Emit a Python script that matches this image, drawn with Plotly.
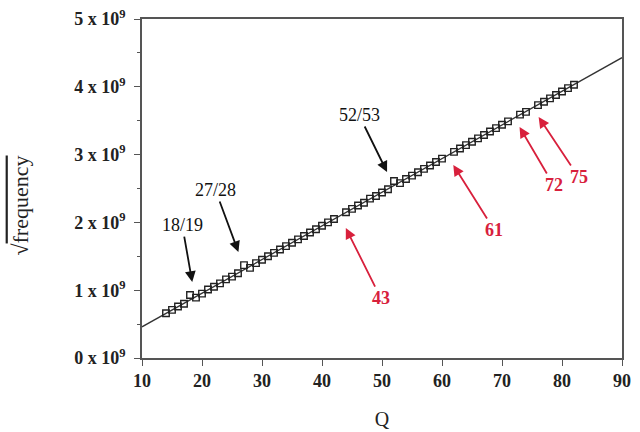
import plotly.graph_objects as go

# ---- data ----
Q = [14, 15, 16, 17, 18, 19, 20, 21, 22, 23, 24, 25, 26, 27, 28, 29, 30, 31, 32, 33,
     34, 35, 36, 37, 38, 39, 40, 41, 42, 44, 45, 46, 47, 48, 49, 50, 51, 52, 53, 54,
     55, 56, 57, 58, 59, 60, 62, 63, 64, 65, 66, 67, 68, 69, 70, 71, 73, 74, 76, 77,
     78, 79, 80, 81, 82]
sqrt_freq_e9 = [0.66, 0.71, 0.76, 0.80, 0.93, 0.89, 0.95, 1.01, 1.05, 1.10, 1.16, 1.20, 1.25, 1.37, 1.33,
                1.40, 1.45, 1.50, 1.55, 1.60, 1.65, 1.70, 1.75, 1.80, 1.85, 1.90, 1.95, 2.00, 2.05,
                2.15, 2.20, 2.25, 2.29, 2.35, 2.39, 2.44, 2.49, 2.61, 2.58, 2.64, 2.69, 2.74, 2.79,
                2.84, 2.89, 2.94, 3.04, 3.09, 3.14, 3.19, 3.24, 3.29, 3.34, 3.39, 3.44, 3.49, 3.59,
                3.63, 3.73, 3.78, 3.83, 3.88, 3.93, 3.98, 4.03]
fit_Q = [10, 90]
fit_e9 = [0.46, 4.43]

y_tick_vals_e9 = [0, 1, 2, 3, 4, 5]
y_tick_text = [f"{v} x 10<sup>9</sup>" for v in y_tick_vals_e9]
x_tick_vals = [10, 20, 30, 40, 50, 60, 70, 80, 90]
y_title = "√<span style='text-decoration:overline'>frequency</span>"

# annotation labels and the points they mark
black_labels = ["18/19", "27/28", "52/53"]
black_tip_Q = [18.37, 26.07, 50.84]
black_tip_e9 = [1.12, 1.563, 2.743]
black_offsets = [(-10, -57), (-23, -62), (-28, -57)]

red_labels = ["43", "61", "72", "75"]
red_tip_Q = [43.97, 61.88, 72.93, 76.1]
red_tip_e9 = [1.917, 2.847, 3.407, 3.555]
red_offsets = [(35, 70), (41, 65), (34, 58), (40, 60)]

E9 = 1e9
FONT = "Liberation Serif"

fig = go.Figure()
fig.add_trace(go.Scatter(
    x=fit_Q, y=[v * E9 for v in fit_e9], mode="lines",
    line=dict(color="#333333", width=1.3), showlegend=False, hoverinfo="skip"))
fig.add_trace(go.Scatter(
    x=Q, y=[v * E9 for v in sqrt_freq_e9], mode="markers",
    marker=dict(symbol="square-open", size=6.5, color="#222222", line=dict(width=1.4)),
    showlegend=False))

for lab, qx, qy, (ax, ay) in zip(black_labels, black_tip_Q, black_tip_e9, black_offsets):
    fig.add_annotation(x=qx, y=qy * E9, text=lab, showarrow=True, ax=ax, ay=ay,
                       arrowhead=2, arrowsize=1.2, arrowwidth=1.8, arrowcolor="#111111",
                       font=dict(family=FONT, size=18, color="#111111"))
for lab, qx, qy, (ax, ay) in zip(red_labels, red_tip_Q, red_tip_e9, red_offsets):
    fig.add_annotation(x=qx, y=qy * E9, text=lab, showarrow=True, ax=ax, ay=ay,
                       arrowhead=2, arrowsize=1.2, arrowwidth=1.8, arrowcolor="#d8203c",
                       font=dict(family=FONT, size=18, color="#d8203c", weight="bold"))

# y-axis title (placed a little below the middle, as in the reference)
fig.add_annotation(xref="paper", yref="paper", x=-0.254, y=0.45, text=y_title,
                   showarrow=False, textangle=-90, xanchor="center", yanchor="middle",
                   font=dict(family=FONT, size=22, color="#222222"))

axis_common = dict(showline=True, linecolor="#555555", linewidth=1.6, mirror=True,
                   showgrid=False, zeroline=False, ticks="outside", ticklen=6,
                   tickwidth=1.4, tickcolor="#555555", automargin=False)

fig.update_xaxes(range=[10, 90], tickvals=x_tick_vals,
                 tickfont=dict(family=FONT, size=18, color="#222222", weight="bold"),
                 title=dict(text="Q", font=dict(family=FONT, size=20, color="#222222"), standoff=22),
                 **axis_common)
fig.update_yaxes(range=[0, 5 * E9], tickvals=[v * E9 for v in y_tick_vals_e9], ticktext=y_tick_text,
                 tickfont=dict(family=FONT, size=18, color="#222222", weight="bold"),
                 ticklabelstandoff=5,
                 minor=dict(dtick=0.5 * E9, ticks="outside", ticklen=3, tickcolor="#555555"),
                 **axis_common)

fig.update_layout(width=640, height=432, margin=dict(l=142, r=18, t=19, b=74),
                  paper_bgcolor="white", plot_bgcolor="white")
fig.write_html("out.html", config={"displayModeBar": False},
               post_script="document.body.style.margin='0px';document.body.style.overflow='hidden';")
